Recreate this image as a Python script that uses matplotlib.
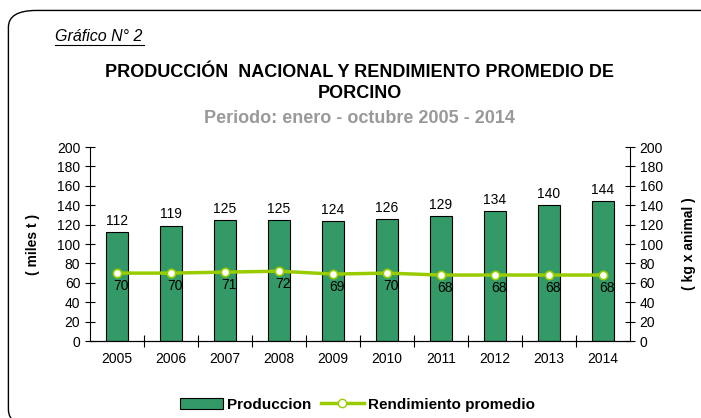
import numpy as np
import matplotlib.pyplot as plt
from matplotlib.patches import FancyBboxPatch
from matplotlib.lines import Line2D
from matplotlib.patches import Patch

years = ["2005", "2006", "2007", "2008", "2009", "2010", "2011", "2012", "2013", "2014"]
produccion = [112, 119, 125, 125, 124, 126, 129, 134, 140, 144]
rendimiento = [70, 70, 71, 72, 69, 70, 68, 68, 68, 68]

bar_color = "#339966"
line_color = "#99CC00"

plt.rcParams['font.family'] = ['Liberation Sans', 'DejaVu Sans']

fig = plt.figure(figsize=(7.01, 4.18), dpi=100)

# rounded frame around the whole chart
frame = FancyBboxPatch((0.012, -0.02), 1.05, 0.995, boxstyle="round,pad=0,rounding_size=0.04",
                       transform=fig.transFigure, facecolor="none", edgecolor="black",
                       linewidth=1.0, zorder=-1)
fig.patches.append(frame)

ax = fig.add_axes([0.1284, 0.1842, 0.770, 0.4641])
ax2 = ax.twinx()

x = np.arange(len(years))
ax.bar(x, produccion, width=0.4, color=bar_color, edgecolor="black", linewidth=0.8, zorder=2)
for xi, v in zip(x, produccion):
    ax.annotate(str(v), (xi, v), xytext=(0, 3), textcoords="offset points",
                ha="center", va="bottom", fontsize=10)

ax2.plot(x, rendimiento, color=line_color, linewidth=2.5, marker="o", markersize=6,
         markerfacecolor="white", markeredgecolor=line_color, markeredgewidth=1.2, zorder=3)
for xi, v in zip(x, rendimiento):
    ax2.annotate(str(v), (xi, v), xytext=(3, -4), textcoords="offset points",
                 ha="center", va="top", fontsize=10)

for a in (ax, ax2):
    a.set_ylim(0, 200)
    a.set_yticks(range(0, 201, 20))
    a.tick_params(axis="y", direction="inout", length=7, width=0.8, labelsize=10)
    a.spines["top"].set_visible(False)
ax.set_xlim(-0.5, len(years) - 0.5)
ax.spines["right"].set_visible(False)
ax2.spines["left"].set_visible(False)

ax.set_xticks(x)
ax.set_xticklabels(years, fontsize=10)
ax.tick_params(axis="x", length=0, pad=8)
ax.set_xticks(np.arange(0.5, len(years) - 0.5), minor=True)
ax.tick_params(axis="x", which="minor", direction="inout", length=8, width=0.8)

ax.set_ylabel("( miles t )", fontsize=10, fontweight="bold", labelpad=12)
ax2.set_ylabel("( kg x animal )", fontsize=10, fontweight="bold", labelpad=14)

fig.text(0.078, 0.912, "Gráfico N° 2", fontsize=11.5, style="italic", ha="left", va="center")
fig.add_artist(Line2D([0.078, 0.205], [0.893, 0.893], color="black", linewidth=0.8))

fig.text(0.513, 0.826, "PRODUCCIÓN  NACIONAL Y RENDIMIENTO PROMEDIO DE", fontsize=13,
         fontweight="bold", ha="center", va="center")
fig.text(0.513, 0.776, "PORCINO", fontsize=13, fontweight="bold", ha="center", va="center")
fig.text(0.513, 0.716, "Periodo: enero - octubre 2005 - 2014", fontsize=13,
         fontweight="bold", color="#999999", ha="center", va="center")

handles = [Patch(facecolor=bar_color, edgecolor="black", linewidth=0.8, label="Produccion"),
           Line2D([0], [0], color=line_color, linewidth=2.5, marker="o", markersize=6,
                  markerfacecolor="white", markeredgecolor=line_color, label="Rendimiento promedio")]
leg = fig.legend(handles=handles, loc="center", bbox_to_anchor=(0.51, 0.032), ncol=2,
                 frameon=False, prop={"weight": "bold", "size": 11},
                 handlelength=2.8, handletextpad=0.3, columnspacing=0.6)

fig.savefig("out.png", dpi=100)
